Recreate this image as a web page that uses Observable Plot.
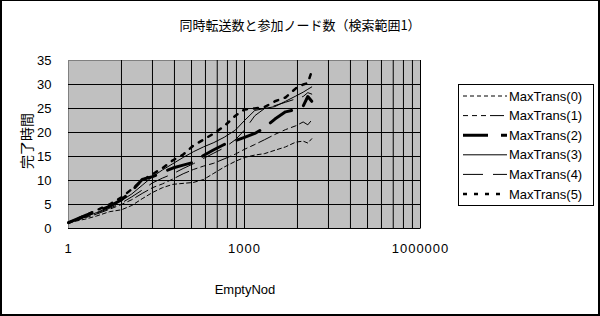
<!DOCTYPE html>
<html><head><meta charset="utf-8">
<script src="https://cdn.jsdelivr.net/npm/d3@7"></script>
<script src="https://cdn.jsdelivr.net/npm/@observablehq/plot@0.6"></script>
<style>
body{margin:0;background:#fff;}
#wrap{position:relative;width:600px;height:316px;overflow:hidden;background:#fff;font-family:"Liberation Sans",Arial,sans-serif;color:#000;}
#border{position:absolute;left:0;top:0;width:600px;height:316px;box-sizing:border-box;border:2px solid #000;border-top-width:1px;pointer-events:none;}
#title{position:absolute;left:0;width:600px;top:16px;line-height:18px;text-align:center;font-family:"Noto Sans CJK JP",sans-serif;font-size:13px;}
#ylab{position:absolute;left:-14px;top:131px;width:80px;height:20px;line-height:20px;text-align:center;transform:rotate(-90deg);font-family:"Noto Sans CJK JP",sans-serif;font-size:14px;}
#xlab{position:absolute;left:185px;width:120px;top:282px;line-height:16px;text-align:center;font-size:13px;}
#legend{position:absolute;left:458px;top:84px;width:136px;height:122px;box-sizing:border-box;border:1px solid #000;background:#fff;}
#chart{position:absolute;left:0;top:0;}
#chart g[aria-label="x-axis tick label"] text{letter-spacing:1px;}
</style>
</head><body>
<div id="wrap">
  <div id="chart"></div>
  <div id="title">同時転送数と参加ノード数（検索範囲1）</div>
  <div id="ylab">完了時間</div>
  <div id="xlab">EmptyNod</div>
  <div id="legend"></div>
  <div id="border"></div>
</div>
<script>
// ---- data ----
const xNodes = [1, 2, 3, 5, 8, 12, 18, 27, 40, 60, 90, 135, 200, 300, 450, 700, 1000, 1500, 2200, 3300, 5000, 7500, 10000, 12000, 14000];
const mt0 = [1.2,2.0,2.6,3.5,3.9,4.8,6.2,7.5,8.5,9.2,9.4,9.6,10.2,11.5,12.8,14.0,14.8,15.3,15.6,16.3,17.0,18.0,18.2,17.8,18.7];
const mt1 = [1.2,2.3,3.0,4.0,5.0,6.0,7.3,8.5,9.3,10.3,11.4,12.3,13.0,13.6,14.5,15.5,16.5,17.5,18.5,19.6,20.6,21.4,22.2,21.6,22.6];
const mt2 = [1.2,2.8,3.6,4.6,6.0,7.8,10.2,10.8,11.7,12.6,13.2,13.8,15.2,16.4,17.5,18.3,19.0,19.8,21.0,22.8,24.3,24.8,25.5,27.5,26.5];
const mt3 = [1.2,2.5,3.3,4.5,5.8,7.2,9.0,10.8,12.2,13.5,14.8,16.0,17.0,17.9,19.0,20.5,22.5,24.6,25.0,25.4,26.5,27.6,28.4,29.0,29.5];
const mt4 = [1.2,2.4,3.2,4.2,5.3,6.6,8.0,9.5,10.5,11.4,12.5,13.5,14.6,15.7,16.8,18.5,20.5,23.5,25.0,25.6,26.3,27.0,27.5,28.3,28.0];
const mt5 = [1.2,2.8,3.8,5.0,6.5,8.2,10.0,11.3,12.6,14.2,15.4,17.3,18.5,19.8,21.3,23.5,24.8,25.0,25.3,26.5,27.3,29.2,30.0,30.3,32.8];
const seriesNames = ["MaxTrans(0)","MaxTrans(1)","MaxTrans(2)","MaxTrans(3)","MaxTrans(4)","MaxTrans(5)"];
const xTicks = [1, 1000, 1000000];
const xGrid = [8, 27, 64, 125, 216, 343, 512, 729, 1000, 8000, 27000, 64000, 125000, 216000, 343000, 512000, 729000, 1000000];
const yTicks = [0, 5, 10, 15, 20, 25, 30, 35];
const yGrid = [0, 5, 10, 15, 20, 25, 30];

// ---- styles ----
const styles = [
  {w: 1, dash: "4,3"},
  {w: 1, dash: "5,4,5,4,5,4,14,4"},
  {w: 3, dash: "25,13"},
  {w: 1, dash: null},
  {w: 1, dash: "20,10"},
  {w: 2.5, dash: "4,7"}
];

const allSeries = [mt0, mt1, mt2, mt3, mt4, mt5];
const lineMarks = allSeries.map((ys, i) => {
  const rows = xNodes.map((x, j) => ({x, y: ys[j]}));
  const opt = {x: "x", y: "y", stroke: "#000", strokeWidth: styles[i].w};
  if (styles[i].dash) opt.strokeDasharray = styles[i].dash;
  return Plot.line(rows, opt);
});

const chart = Plot.plot({
  width: 600, height: 316,
  marginLeft: 68, marginRight: 180, marginTop: 60, marginBottom: 88,
  style: {background: "transparent", fontFamily: "Liberation Sans, Arial, sans-serif", color: "#000", overflow: "visible"},
  x: {type: "log", domain: [1, 1000000]},
  y: {domain: [0, 35]},
  marks: [
    Plot.frame({fill: "#c0c0c0", stroke: "#808080"}),
    Plot.ruleY(yGrid, {stroke: "#000"}),
    Plot.ruleX(xGrid, {stroke: "#000"}),
    ...lineMarks,
    Plot.axisX(xTicks, {tickSize: 0, tickPadding: 15, fontSize: 13, label: null, tickFormat: d => String(d)}),
    Plot.axisY(yTicks, {tickSize: 0, tickPadding: 17, fontSize: 13, label: null, tickFormat: d => String(d)})
  ]
});
document.getElementById("chart").appendChild(chart);

// ---- legend ----
const lg = d3.select("#legend").append("svg").attr("width", 134).attr("height", 120);
seriesNames.forEach((name, i) => {
  const cy = 11 + i * 19.6;
  const ln = lg.append("line").attr("x1", 4).attr("x2", 48).attr("y1", cy).attr("y2", cy)
    .attr("stroke", "#000").attr("stroke-width", styles[i].w);
  if (styles[i].dash) ln.attr("stroke-dasharray", styles[i].dash);
  lg.append("text").attr("x", 50).attr("y", cy).attr("dy", "0.35em")
    .attr("font-family", "Liberation Sans, Arial, sans-serif").attr("font-size", 13).text(name);
});
</script>
</body></html>
